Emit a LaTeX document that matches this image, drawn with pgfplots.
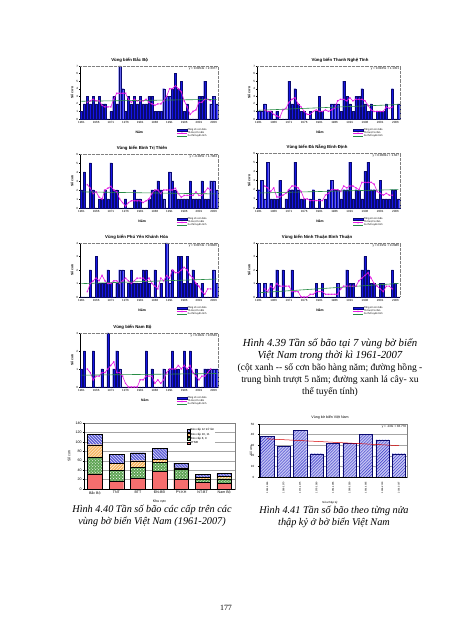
\documentclass[border=0pt]{standalone}
\usepackage{pgfplots}
\pgfplotsset{compat=1.18}
\usepackage{fontspec}
\setmainfont{Liberation Sans}
\newfontfamily\serif{Liberation Serif}
\usetikzlibrary{patterns}

\definecolor{barblue}{RGB}{20,20,230}
\definecolor{baredge}{RGB}{10,10,110}
\definecolor{mapink}{RGB}{230,25,230}
\definecolor{trgreen}{RGB}{40,140,70}
\definecolor{atnd}{RGB}{245,110,110}
\definecolor{cae}{RGB}{95,165,85}
\definecolor{cmm}{RGB}{245,180,95}
\definecolor{ctw}{RGB}{95,95,215}
\definecolor{hatchblue}{RGB}{50,50,200}
\definecolor{hatchfill}{RGB}{195,195,242}

\newcommand{\tk}{\fontsize{3}{3.4}\selectfont}
\newcommand{\lgf}{\fontsize{2.5}{2.9}\selectfont}
\newcommand{\ttl}{\fontsize{4.3}{5}\selectfont\bfseries}
\newcommand{\lab}{\fontsize{3.4}{4}\selectfont\bfseries}

\pgfplotsset{
  yc/.style={
    scale only axis, anchor=south west, clip=false,
    xmin=1960.5, xmax=2007.5, ymin=0,
    xtick={1961,1966,...,2006},
    ytick distance=1,
    axis lines=left,
    axis line style={-, black, line width=0.3bp},
    tick style={black, line width=0.25bp},
    tick align=outside, major tick length=1.2bp,
    ticklabel style={font=\tk, inner sep=0.6bp},
    /pgf/number format/assume math mode=true,
    /pgf/number format/set thousands separator={},
    legend cell align=left,
    legend style={draw=none, fill=none, inner sep=0pt, outer sep=0pt,
      font=\lgf, row sep=-1.1bp, nodes={inner sep=0.4bp}},
  },
  bars/.style={ybar, bar width=0.72, fill=barblue, draw=baredge, line width=0.15bp,
    legend image code/.code={\fill[barblue,draw=baredge,line width=0.15bp] (0bp,-0.9bp) rectangle (10bp,1.1bp);}},
  ma/.style={mapink, line width=0.6bp, mark=x, mark size=0.9bp, mark options={line width=0.35bp},
    legend image code/.code={\draw[mark repeat=2,mark phase=2,##1] plot coordinates {(0bp,0bp) (5bp,0bp) (10bp,0bp)};}},
  trend/.style={trgreen, line width=0.6bp,
    legend image code/.code={\draw[##1] (0bp,0bp) -- (10bp,0bp);}},
}

\newcommand{\deco}[4]{%
  \draw[gray, densely dotted, line width=0.3bp] (rel axis cs:0,1) -- (rel axis cs:1,1) -- (rel axis cs:1,0);
  \node[font=\ttl] at ([yshift=5.5bp]rel axis cs:#2,1) {#1};
  \node[font=\tk, anchor=north east, inner sep=0.8bp] at (rel axis cs:1,1) {#3};
  \node[font=\lab] at ([yshift=-13bp]rel axis cs:#4,0) {Năm};
  \node[font=\lab, rotate=90] at ([xshift=-8bp]rel axis cs:0,0.5) {Số cơn};
}

\begin{document}
\begin{tikzpicture}
\fill[white] (0,0) rectangle (452bp,640bp);
\useasboundingbox (0,0) rectangle (452bp,640bp);

% ---------- Chart 1: Bac Bo
\begin{axis}[yc, at={(80bp,521bp)}, width=138bp, height=53bp, ymax=7,
  legend style={at={(axis description cs:0.70,-0.17)}, anchor=north west}]
\addplot[bars] coordinates {(1961,1)(1962,2)(1963,3)(1964,2)(1965,3)(1966,2)(1967,3)(1968,2)(1969,2)(1970,0)(1971,1)(1972,3)(1973,2)(1974,7)(1975,4)(1976,1)(1977,3)(1978,2)(1979,3)(1980,2)(1981,3)(1982,2)(1983,2)(1984,3)(1985,3)(1986,1)(1987,1)(1988,1)(1989,4)(1990,3)(1991,3)(1992,4)(1993,6)(1994,4)(1995,5)(1996,1)(1997,2)(1998,0)(1999,0)(2000,0)(2001,3)(2002,3)(2003,5)(2004,0)(2005,2)(2006,3)(2007,2)};
\addlegendentry{Tổng số cơn bão}
\addplot[ma] coordinates {(1963,2.2)(1964,2.4)(1965,2.6)(1966,2.4)(1967,2.4)(1968,1.8)(1969,1.6)(1970,1.6)(1971,1.6)(1972,2.6)(1973,3.4)(1974,3.4)(1975,3.4)(1976,3.4)(1977,2.6)(1978,2.2)(1979,2.6)(1980,2.4)(1981,2.4)(1982,2.4)(1983,2.6)(1984,2.2)(1985,2.0)(1986,1.8)(1987,2.0)(1988,2.0)(1989,2.4)(1990,3.0)(1991,4.0)(1992,4.0)(1993,4.4)(1994,4.0)(1995,3.6)(1996,2.4)(1997,1.6)(1998,0.6)(1999,1.0)(2000,1.2)(2001,2.2)(2002,2.2)(2003,2.6)(2004,2.6)(2005,2.4)};
\addlegendentry{Tb trượt 5 năm}
\addplot[trend] coordinates {(1961,2.3431)(2007,2.5915)};
\addlegendentry{Xu thế tuyến tính}
\deco{Vùng biển Bắc Bộ}{0.36}{y = 0.0054x + 2.3377}{0.43}
\end{axis}

% ---------- Chart 2: Thanh Nghe Tinh
\begin{axis}[yc, at={(257bp,521bp)}, width=143bp, height=53bp, ymax=7,
  legend style={at={(axis description cs:0.67,-0.17)}, anchor=north west}]
\addplot[bars] coordinates {(1961,1)(1962,1)(1963,2)(1964,1)(1965,1)(1966,0)(1967,1)(1968,0)(1969,0)(1970,0)(1971,5)(1972,2)(1973,4)(1974,2)(1975,1)(1976,1)(1977,0)(1978,1)(1979,0)(1980,1)(1981,3)(1982,1)(1983,0)(1984,0)(1985,2)(1986,2)(1987,2)(1988,1)(1989,5)(1990,3)(1991,2)(1992,1)(1993,3)(1994,3)(1995,4)(1996,2)(1997,1)(1998,2)(1999,0)(2000,1)(2001,1)(2002,1)(2003,2)(2004,0)(2005,4)(2006,0)(2007,2)};
\addlegendentry{Tổng số cơn bão}
\addplot[ma] coordinates {(1963,1.2)(1964,1.0)(1965,1.0)(1966,0.6)(1967,0.4)(1968,0.2)(1969,1.2)(1970,1.4)(1971,2.2)(1972,2.6)(1973,2.8)(1974,2.0)(1975,1.6)(1976,1.0)(1977,0.6)(1978,0.6)(1979,1.0)(1980,1.2)(1981,1.0)(1982,1.0)(1983,1.2)(1984,1.0)(1985,1.2)(1986,1.4)(1987,2.4)(1988,2.6)(1989,2.6)(1990,2.4)(1991,2.8)(1992,2.4)(1993,2.6)(1994,2.6)(1995,2.6)(1996,2.4)(1997,1.8)(1998,1.2)(1999,1.0)(2000,1.0)(2001,1.0)(2002,1.0)(2003,1.6)(2004,1.4)(2005,1.6)};
\addlegendentry{Tb trượt 5 năm}
\addplot[trend] coordinates {(1961,1.1516)(2007,1.9106)};
\addlegendentry{Xu thế tuyến tính}
\deco{Vùng biển Thanh Nghệ Tĩnh}{0.58}{y = 0.0165x + 1.1351}{0.44}
\end{axis}

% ---------- Chart 3: Binh Tri Thien
\begin{axis}[yc, at={(80bp,432bp)}, width=138bp, height=54bp, ymax=6,
  legend style={at={(axis description cs:0.70,-0.17)}, anchor=north west}]
\addplot[bars] coordinates {(1961,2)(1962,4)(1963,0)(1964,5)(1965,2)(1966,0)(1967,1)(1968,1)(1969,2)(1970,1)(1971,5)(1972,2)(1973,2)(1974,0)(1975,0)(1976,1)(1977,0)(1978,0)(1979,2)(1980,1)(1981,1)(1982,0)(1983,0)(1984,1)(1985,2)(1986,2)(1987,3)(1988,2)(1989,1)(1990,0)(1991,4)(1992,3)(1993,2)(1994,1)(1995,1)(1996,1)(1997,1)(1998,3)(1999,1)(2000,1)(2001,1)(2002,3)(2003,1)(2004,1)(2005,3)(2006,3)(2007,2)};
\addlegendentry{Tổng số cơn bão}
\addplot[ma] coordinates {(1963,2.6)(1964,2.2)(1965,1.6)(1966,1.8)(1967,1.2)(1968,1.0)(1969,2.0)(1970,2.2)(1971,2.4)(1972,2.0)(1973,1.8)(1974,1.0)(1975,0.6)(1976,0.2)(1977,0.6)(1978,0.8)(1979,0.8)(1980,0.8)(1981,0.8)(1982,0.6)(1983,0.8)(1984,1.0)(1985,1.6)(1986,2.0)(1987,2.0)(1988,1.6)(1989,2.0)(1990,2.0)(1991,2.0)(1992,2.0)(1993,2.2)(1994,1.6)(1995,1.2)(1996,1.4)(1997,1.4)(1998,1.4)(1999,1.4)(2000,1.8)(2001,1.4)(2002,1.4)(2003,1.8)(2004,2.2)(2005,2.0)};
\addlegendentry{Tb trượt 5 năm}
\addplot[trend] coordinates {(1961,1.7914)(2007,1.5614)};
\addlegendentry{Xu thế tuyến tính}
\deco{Vùng biển Bình Trị Thiên}{0.45}{y = -0.005x + 1.7964}{0.45}
\end{axis}

% ---------- Chart 4: Da Nang Binh Dinh
\begin{axis}[yc, at={(257bp,432bp)}, width=143bp, height=55bp, ymax=6,
  legend style={at={(axis description cs:0.67,-0.17)}, anchor=north west}]
\addplot[bars] coordinates {(1961,2)(1962,3)(1963,1)(1964,5)(1965,1)(1966,1)(1967,1)(1968,3)(1969,0)(1970,1)(1971,2)(1972,2)(1973,5)(1974,2)(1975,1)(1976,1)(1977,0)(1978,1)(1979,2)(1980,0)(1981,1)(1982,0)(1983,1)(1984,2)(1985,3)(1986,2)(1987,2)(1988,1)(1989,2)(1990,2)(1991,5)(1992,1)(1993,2)(1994,2)(1995,1)(1996,4)(1997,5)(1998,2)(1999,2)(2000,1)(2001,3)(2002,1)(2003,1)(2004,1)(2005,2)(2006,2)(2007,1)};
\addlegendentry{Tổng số cơn bão}
\addplot[ma] coordinates {(1963,2.4)(1964,2.2)(1965,1.8)(1966,2.2)(1967,1.2)(1968,1.2)(1969,1.4)(1970,1.6)(1971,2.0)(1972,2.4)(1973,2.4)(1974,2.2)(1975,1.8)(1976,1.0)(1977,1.0)(1978,0.8)(1979,0.8)(1980,0.8)(1981,0.8)(1982,0.8)(1983,1.4)(1984,1.6)(1985,2.0)(1986,2.0)(1987,2.0)(1988,1.8)(1989,2.4)(1990,2.2)(1991,2.4)(1992,2.4)(1993,2.2)(1994,2.0)(1995,2.8)(1996,2.8)(1997,2.8)(1998,2.8)(1999,2.6)(2000,1.8)(2001,1.6)(2002,1.4)(2003,1.6)(2004,1.4)(2005,1.4)};
\addlegendentry{Tb trượt 5 năm}
\addplot[trend] coordinates {(1961,1.6351)(2007,2.0077)};
\addlegendentry{Xu thế tuyến tính}
\deco{Vùng biển Đà Nẵng Bình Định}{0.42}{y = 0.0081x + 1.627}{0.44}
\end{axis}

% ---------- Chart 5: Phu Yen Khanh Hoa
\begin{axis}[yc, at={(80bp,343bp)}, width=138bp, height=54bp, ymax=4,
  legend style={at={(axis description cs:0.70,-0.17)}, anchor=north west}]
\addplot[bars] coordinates {(1961,0)(1962,0)(1963,0)(1964,2)(1965,0)(1966,3)(1967,1)(1968,1)(1969,1)(1970,2)(1971,1)(1972,0)(1973,1)(1974,2)(1975,2)(1976,0)(1977,1)(1978,2)(1979,1)(1980,1)(1981,1)(1982,2)(1983,2)(1984,1)(1985,0)(1986,2)(1987,0)(1988,1)(1989,0)(1990,4)(1991,1)(1992,2)(1993,0)(1994,3)(1995,3)(1996,1)(1997,3)(1998,1)(1999,2)(2000,1)(2001,0)(2002,1)(2003,0)(2004,0)(2005,0)(2006,2)(2007,1)};
\addlegendentry{Tổng số cơn bão}
\addplot[ma] coordinates {(1963,0.4)(1964,1.0)(1965,1.2)(1966,1.4)(1967,1.2)(1968,1.6)(1969,1.2)(1970,1.0)(1971,1.0)(1972,1.2)(1973,1.2)(1974,1.0)(1975,1.2)(1976,1.4)(1977,1.2)(1978,1.0)(1979,1.2)(1980,1.4)(1981,1.4)(1982,1.4)(1983,1.2)(1984,1.4)(1985,1.0)(1986,0.8)(1987,0.6)(1988,1.4)(1989,1.2)(1990,1.6)(1991,1.4)(1992,2.0)(1993,1.8)(1994,1.8)(1995,2.0)(1996,2.2)(1997,2.0)(1998,1.6)(1999,1.4)(2000,1.0)(2001,0.8)(2002,0.4)(2003,0.2)(2004,0.6)(2005,0.6)};
\addlegendentry{Tb trượt 5 năm}
\addplot[trend] coordinates {(1961,0.9900)(2007,1.3304)};
\addlegendentry{Xu thế tuyến tính}
\deco{Vùng biển Phú Yên Khánh Hòa}{0.41}{y = 0.0074x + 0.9826}{0.45}
\end{axis}

% ---------- Chart 6: Ninh Thuan Binh Thuan
\begin{axis}[yc, at={(257bp,343bp)}, width=143bp, height=54bp, ymax=4,
  legend style={at={(axis description cs:0.67,-0.17)}, anchor=north west}]
\addplot[bars] coordinates {(1961,1)(1962,0)(1963,1)(1964,0)(1965,1)(1966,0)(1967,2)(1968,0)(1969,2)(1970,0)(1971,0)(1972,2)(1973,0)(1974,0)(1975,0)(1976,0)(1977,0)(1978,0)(1979,0)(1980,1)(1981,0)(1982,1)(1983,0)(1984,0)(1985,0)(1986,0)(1987,1)(1988,0)(1989,0)(1990,2)(1991,1)(1992,1)(1993,0)(1994,0)(1995,2)(1996,3)(1997,2)(1998,1)(1999,1)(2000,0)(2001,1)(2002,1)(2003,0)(2004,0)(2005,2)(2006,1)(2007,0)};
\addlegendentry{Tổng số cơn bão}
\addplot[ma] coordinates {(1963,0.6)(1964,0.4)(1965,0.8)(1966,0.6)(1967,1.0)(1968,0.8)(1969,0.8)(1970,0.8)(1971,0.8)(1972,0.4)(1973,0.4)(1974,0.4)(1975,0)(1976,0)(1977,0)(1978,0.2)(1979,0.2)(1980,0.4)(1981,0.4)(1982,0.4)(1983,0.2)(1984,0.2)(1985,0.2)(1986,0.2)(1987,0.2)(1988,0.6)(1989,0.8)(1990,0.8)(1991,0.8)(1992,0.8)(1993,0.8)(1994,1.2)(1995,1.4)(1996,1.6)(1997,1.8)(1998,1.4)(1999,1.0)(2000,0.8)(2001,0.6)(2002,0.4)(2003,0.8)(2004,0.8)(2005,0.6)};
\addlegendentry{Tb trượt 5 năm}
\addplot[trend] coordinates {(1961,0.3136)(2007,1.0036)};
\addlegendentry{Xu thế tuyến tính}
\deco{Vùng biển Ninh Thuận Bình Thuận}{0.42}{y = 0.015x + 0.2986}{0.44}
\end{axis}

% ---------- Chart 7: Nam Bo
\begin{axis}[yc, at={(80bp,253bp)}, width=138bp, height=54bp, ymax=3,
  legend style={at={(axis description cs:0.70,-0.17)}, anchor=north west}]
\addplot[bars] coordinates {(1961,1)(1962,2)(1963,0)(1964,0)(1965,2)(1966,0)(1967,0)(1968,1)(1969,0)(1970,3)(1971,0)(1972,1)(1973,2)(1974,1)(1975,0)(1976,0)(1977,0)(1978,0)(1979,0)(1980,0)(1981,0)(1982,0)(1983,2)(1984,0)(1985,1)(1986,0)(1987,0)(1988,0)(1989,1)(1990,0)(1991,1)(1992,2)(1993,1)(1994,1)(1995,0)(1996,2)(1997,1)(1998,2)(1999,0)(2000,1)(2001,0)(2002,0)(2003,1)(2004,1)(2005,1)(2006,1)(2007,1)};
\addlegendentry{Tổng số cơn bão}
\addplot[ma] coordinates {(1963,1.0)(1964,0.8)(1965,0.4)(1966,0.6)(1967,0.6)(1968,0.8)(1969,0.8)(1970,1.0)(1971,1.2)(1972,1.4)(1973,0.8)(1974,0.8)(1975,0.6)(1976,0.2)(1977,0)(1978,0)(1979,0)(1980,0)(1981,0.4)(1982,0.4)(1983,0.6)(1984,0.6)(1985,0.6)(1986,0.2)(1987,0.4)(1988,0.2)(1989,0.4)(1990,0.8)(1991,1.0)(1992,1.0)(1993,1.0)(1994,1.2)(1995,1.0)(1996,1.2)(1997,1.0)(1998,1.2)(1999,0.8)(2000,0.6)(2001,0.4)(2002,0.6)(2003,0.6)(2004,0.8)(2005,1.0)};
\addlegendentry{Tb trượt 5 năm}
\addplot[trend] coordinates {(1961,0.6569)(2007,0.7489)};
\addlegendentry{Xu thế tuyến tính}
\deco{Vùng biển Nam Bộ}{0.38}{y = 0.002x + 0.6549}{0.47}
\end{axis}

% ---------- Caption 4.39
\node[font=\serif\itshape\fontsize{10.8}{11}\selectfont, inner sep=0pt] at (330bp,296bp) {Hình 4.39 Tần số bão tại 7 vùng bờ biển};
\node[font=\serif\itshape\fontsize{10.8}{11}\selectfont, inner sep=0pt] at (330bp,284bp) {Việt Nam trong thời kì 1961-2007};
\node[font=\serif\fontsize{9.6}{10}\selectfont, inner sep=0pt] at (330bp,272bp) {(cột xanh -- số cơn bão hàng năm; đường hồng -};
\node[font=\serif\fontsize{9.6}{10}\selectfont, inner sep=0pt] at (330bp,260bp) {trung bình trượt 5 năm; đường xanh lá cây- xu};
\node[font=\serif\fontsize{9.6}{10}\selectfont, inner sep=0pt] at (330bp,248bp) {thể tuyến tính)};

% ---------- Figure 4.40: stacked
\begin{axis}[scale only axis, anchor=south west, at={(84bp,151bp)}, width=151bp, height=66bp, clip=false,
  ybar stacked, bar width=0.68,
  xmin=-0.5, xmax=6.5, ymin=0, ymax=140, ytick={0,20,...,140},
  xtick={0,...,6}, xticklabels={Bắc Bộ,TNT,BTT,ĐN-BĐ,PY-KH,NT-BT,Nam Bộ},
  axis line style={gray, line width=0.3bp},
  ymajorgrids, grid style={gray!70, line width=0.3bp},
  tick style={black, line width=0.25bp}, tick align=outside, major tick length=1.3bp,
  xtick style={draw=none}, ytick pos=left,
  ticklabel style={font=\fontsize{3.6}{4}\selectfont, inner sep=0.8bp},
  /pgf/number format/assume math mode=true,
  legend style={at={(axis description cs:0.68,0.93)}, anchor=north west, draw=none, fill=white,
    font=\fontsize{2.9}{3.3}\selectfont, inner sep=0.3bp, row sep=-0.5bp, nodes={inner sep=0.5bp}},
  legend cell align=left, reverse legend,
  legend image code/.code={\draw[#1] (0bp,-1.2bp) rectangle (2.6bp,1.4bp);},
]
\addplot[fill=atnd, draw=black, line width=0.2bp] coordinates {(0,32)(1,16)(2,23)(3,38)(4,20)(5,14)(6,12)};
\addlegendentry{ATNĐ}
\addplot[fill=cae, draw=black, line width=0.2bp, postaction={pattern=crosshatch dots, pattern color=white}] coordinates {(0,35)(1,24)(2,23)(3,19)(4,22)(5,7)(6,10)};
\addlegendentry{Bão cấp 8, 9}
\addplot[fill=cmm, draw=black, line width=0.2bp, postaction={pattern=north east lines, pattern color=white}] coordinates {(0,27)(1,14)(2,14)(3,6)(4,3)(5,4)(6,5)};
\addlegendentry{Bão cấp 10, 11}
\addplot[fill=ctw, draw=black, line width=0.2bp, postaction={pattern=north west lines, pattern color=white}] coordinates {(0,22)(1,19)(2,17)(3,23)(4,10)(5,6)(6,6)};
\addlegendentry{Bão cấp 12 trở lên}
\draw[black, line width=0.3bp] (rel axis cs:0,1) -- (rel axis cs:0,0) -- (rel axis cs:1,0);
\node[font=\fontsize{3.6}{4}\selectfont] at ([yshift=-12.5bp]rel axis cs:0.5,0) {Khu vực};
\node[font=\fontsize{3.6}{4}\selectfont, rotate=90] at ([xshift=-15bp]rel axis cs:0,0.5) {Số cơn};
\end{axis}

% ---------- Figure 4.41: half-decades
\begin{axis}[scale only axis, anchor=south west, at={(259bp,163bp)}, width=148bp, height=53bp, clip=false,
  xmin=0.5, xmax=9.5, ymin=0, ymax=50, ytick={0,10,...,50},
  xtick={1,...,9},
  xticklabels={1961-1965,1966-1970,1971-1975,1976-1980,1981-1985,1986-1990,1991-1995,1996-2000,2001-2007},
  x tick label style={rotate=90, anchor=east, font=\fontsize{2.4}{2.8}\selectfont},
  y tick label style={font=\fontsize{3}{3.4}\selectfont},
  axis line style={gray, line width=0.3bp},
  ymajorgrids, grid style={gray!70, line width=0.3bp},
  tick style={black, line width=0.25bp}, tick align=outside, major tick length=1.2bp,
  xtick style={draw=none}, ytick pos=left,
  /pgf/number format/assume math mode=true,
]
\addplot[ybar, bar width=0.8, fill=hatchfill, draw=baredge, line width=0.35bp,
  postaction={pattern=north east lines, pattern color=hatchblue}]
  coordinates {(1,38.5)(2,29)(3,44)(4,22)(5,32)(6,32)(7,40)(8,35)(9,22)};
\addplot[red!85!black, line width=0.5bp] coordinates {(1,35.978)(9,29.578)};
\draw[black, line width=0.3bp] (rel axis cs:0,1) -- (rel axis cs:0,0) -- (rel axis cs:1,0);
\node[font=\fontsize{3.6}{4}\selectfont] at ([yshift=7bp]rel axis cs:0.48,1) {Vùng bờ biển Việt Nam};
\node[font=\fontsize{3}{3.4}\selectfont, anchor=north east, inner sep=0.8bp] at (rel axis cs:1,1) {y = -0.8x + 36.778};
\node[font=\fontsize{2.8}{3.2}\selectfont] at ([yshift=-26bp]rel axis cs:0.48,0) {Nửa thập kỷ};
\node[font=\fontsize{3.2}{3.6}\selectfont, rotate=90] at ([xshift=-8bp]rel axis cs:0,0.5) {Số cơn};
\end{axis}

% ---------- Captions 4.40 / 4.41
\node[font=\serif\itshape\fontsize{10.3}{11}\selectfont, inner sep=0pt] at (152bp,130bp) {Hình 4.40 Tần số bão các cấp trên các};
\node[font=\serif\itshape\fontsize{10.3}{11}\selectfont, inner sep=0pt] at (152bp,118bp) {vùng bờ biển Việt Nam (1961-2007)};
\node[font=\serif\itshape\fontsize{10.3}{11}\selectfont, inner sep=0pt] at (334bp,129bp) {Hình 4.41 Tần số bão theo từng nửa};
\node[font=\serif\itshape\fontsize{10.3}{11}\selectfont, inner sep=0pt] at (334bp,117bp) {thập kỷ ở bờ biển Việt Nam};

% ---------- Page number
\node[font=\serif\fontsize{8}{9}\selectfont] at (226bp,32bp) {177};
\end{tikzpicture}
\end{document}
